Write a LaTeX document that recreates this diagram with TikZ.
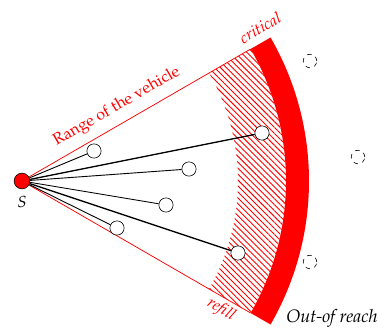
\documentclass[tikz,border=0pt]{standalone}
\usepackage[T1]{fontenc}
\usepackage{mathpazo}
\usetikzlibrary{patterns,patterns.meta,calc}
\begin{document}
\begin{tikzpicture}[x=0.667pt,y=-0.667pt,
  cust/.style={circle,draw,fill=white,inner sep=0pt,minimum size=9.5pt},
  far/.style={circle,draw,dashed,inner sep=0pt,minimum size=9pt},
  lab/.style={font=\fontsize{10.7}{13}\selectfont},
  rlab/.style={red,font=\fontsize{10.7}{13}\selectfont\itshape},
  link/.style={line width=0.9pt},
  linkthin/.style={line width=0.6pt}]
\useasboundingbox (0,0) rectangle (378,328);
\coordinate (O) at (22,181);
% hatched zone
\fill[pattern={Lines[angle=-45,distance=2.8pt,line width=0.6pt]},pattern color=red]
  ($(O)+(-30:216)$) arc[start angle=-30,end angle=30,radius=216]
  -- ($(O)+(30:264)$) arc[start angle=30,end angle=-30,radius=264] -- cycle;
% out-of-reach band
\fill[red]
  ($(O)+(-30:264)$) arc[start angle=-30,end angle=30,radius=264]
  -- ($(O)+(30:287)$) arc[start angle=30,end angle=-30,radius=287] -- cycle;
\coordinate (U) at ($(O)+(-30:264)$);
\coordinate (L) at ($(O)+(30:264)$);
\draw[red,line width=0.5pt] (O) -- (U);
\draw[red,line width=0.5pt] (O) -- (L);
% customers
\node[cust] (c1) at (94,151) {};
\node[cust] (c2) at (262,133) {};
\node[cust] (c3) at (189,169) {};
\node[cust] (c4) at (166,205) {};
\node[cust] (c5) at (117,228) {};
\node[cust] (c6) at (238,253) {};
\node[far] (d1) at (310,61) {};
\node[far] (d2) at (358,157) {};
\node[far] (d3) at (310,262) {};
\node[circle,draw,fill=red,inner sep=0pt,minimum size=10.5pt] (S) at (O) {};
\draw[linkthin] (S) -- (c1);
\draw[link] (S) -- (c2);
\draw[linkthin] (S) -- (c3);
\draw[linkthin] (S) -- (c4);
\draw[linkthin] (S) -- (c5);
\draw[link] (S) -- (c6);
\node[lab] (Slab) at (22,202) {$S$};
\node[lab,red,rotate=30] (rng) at (117,107) {Range of the vehicle};
\node[rlab,rotate=30] (crit) at (260,28) {critical};
\node[rlab,rotate=-30] (ref) at (221,310) {refill};
\node[font=\fontsize{12}{14}\selectfont\itshape] (out) at (332,318) {Out-of reach};
\end{tikzpicture}
\end{document}
